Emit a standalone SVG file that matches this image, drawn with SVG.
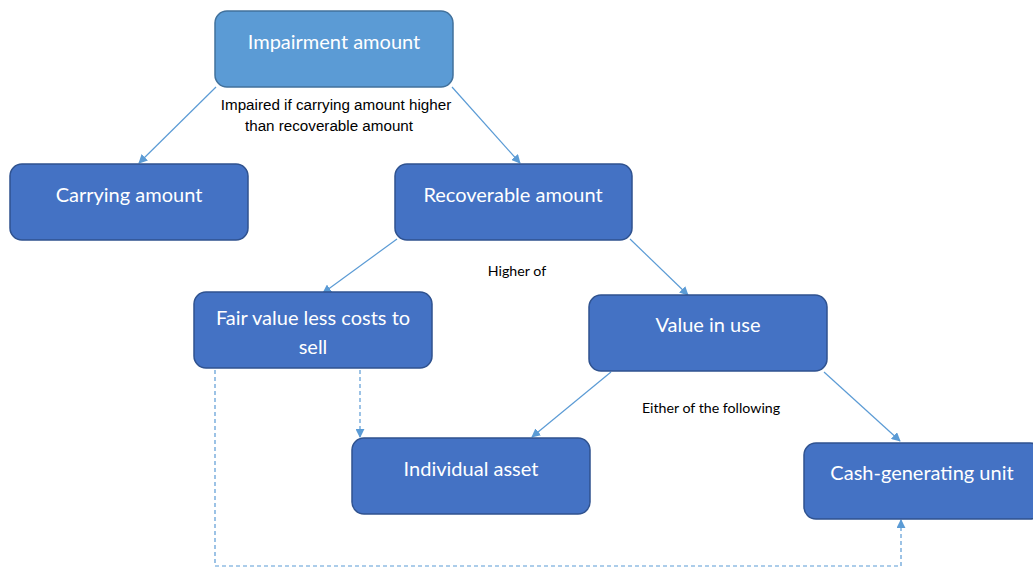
<svg xmlns="http://www.w3.org/2000/svg" width="1033" height="567" viewBox="0 0 1033 567">
<defs>
<style>
.box{fill:#4472C4;stroke:#2F528F;stroke-width:1.5}
.top{fill:#5B9BD5;stroke:#41719C;stroke-width:1.5}
.t{font-family:Lato,"Open Sans",sans-serif;font-size:20px;fill:#fff;text-anchor:middle}
.lab{font-family:"Liberation Sans",Arial,sans-serif;font-size:15.2px;fill:#000;text-anchor:middle}
.lab2{font-family:Lato,"Open Sans",sans-serif;font-size:14.2px;fill:#000;text-anchor:middle}
.c{stroke:#5B9BD5;stroke-width:1.2;fill:none}
.d{stroke:#5B9BD5;stroke-width:1.2;fill:none;stroke-dasharray:4 3}
</style>
<marker id="a" viewBox="0 0 10 10" refX="9" refY="5" markerWidth="9" markerHeight="9" markerUnits="userSpaceOnUse" orient="auto"><path d="M0,0L10,5L0,10z" fill="#5B9BD5"/></marker>
</defs>
<g id="connectors">
<line class="c" x1="216" y1="87" x2="139" y2="163" marker-end="url(#a)"/>
<line class="c" x1="452" y1="87" x2="520" y2="163" marker-end="url(#a)"/>
<line class="c" x1="397" y1="239" x2="323" y2="293" marker-end="url(#a)"/>
<line class="c" x1="630" y1="239" x2="688" y2="295" marker-end="url(#a)"/>
<line class="c" x1="611" y1="372" x2="532" y2="437" marker-end="url(#a)"/>
<line class="c" x1="824" y1="372" x2="900" y2="441" marker-end="url(#a)"/>
<line class="d" x1="360" y1="370" x2="360" y2="437" marker-end="url(#a)"/>
<polyline class="d" points="215,370 215,566 901,566 901,520" marker-end="url(#a)"/>
</g>
<g id="impairment"><rect class="top" x="215" y="11" width="238" height="76" rx="12"/><text class="t" x="334" y="49">Impairment amount</text></g>
<g id="carrying"><rect class="box" x="10" y="164" width="238" height="76" rx="12"/><text class="t" x="129" y="202">Carrying amount</text></g>
<g id="recoverable"><rect class="box" x="395" y="164" width="237" height="76" rx="12"/><text class="t" x="513" y="202">Recoverable amount</text></g>
<g id="fairvalue"><rect class="box" x="194" y="292" width="238" height="76" rx="12"/><text class="t" x="313" y="325">Fair value less costs to</text><text class="t" x="313" y="354">sell</text></g>
<g id="valueinuse"><rect class="box" x="589" y="295" width="238" height="76" rx="12"/><text class="t" x="708" y="332">Value in use</text></g>
<g id="individual"><rect class="box" x="352" y="438" width="238" height="76" rx="12"/><text class="t" x="471" y="476">Individual asset</text></g>
<g id="cgu"><rect class="box" x="804" y="443" width="238" height="76" rx="12"/><text class="t" x="922" y="480">Cash-generating unit</text></g>
<g id="labels">
<text class="lab" x="336" y="110">Impaired if carrying amount higher</text>
<text class="lab" x="329" y="131">than recoverable amount</text>
<text class="lab2" x="517" y="276">Higher of</text>
<text class="lab2" x="711" y="413">Either of the following</text>
</g>
</svg>
